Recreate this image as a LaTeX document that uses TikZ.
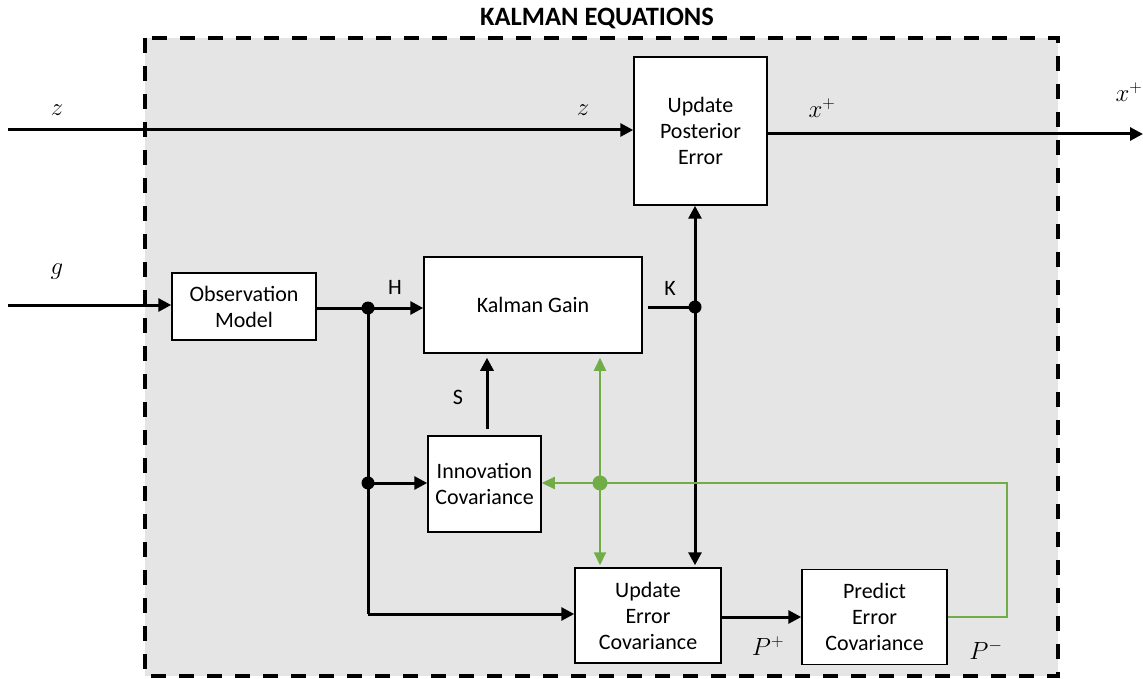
\documentclass[tikz,border=0pt]{standalone}
\usepackage[no-math]{fontspec}
\setmainfont{Carlito}
\usetikzlibrary{arrows.meta,calc}
\definecolor{bggray}{HTML}{E5E5E5}
\definecolor{grn}{HTML}{70AD47}
\begin{document}
\begin{tikzpicture}[x=1pt,y=-1pt,
  box/.style={draw=black, line width=1.5pt, fill=white, align=center, inner sep=0pt, font=\fontsize{22}{26}\selectfont},
  conn/.style={line width=3pt, -{Triangle[length=13pt,width=13pt]}},
  plain/.style={line width=3pt},
  gconn/.style={draw=grn, line width=2pt, line join=miter, -{Triangle[length=13pt,width=12pt]}},
  lbl/.style={font=\fontsize{22}{26}\selectfont},
  mlbl/.style={font=\fontsize{26}{30}\selectfont},
  dot/.style={circle, fill=black, inner sep=0pt, minimum size=13pt},
  gdot/.style={circle, fill=grn, inner sep=0pt, minimum size=15pt}]
\useasboundingbox (0,0) rectangle (1143,679);
\draw[fill=bggray, line width=3.5pt, dash pattern=on 15pt off 13pt] (145,38) rectangle (1058,676);
\node[font=\bfseries\fontsize{26.5}{30}\selectfont] (title) at (597,18) {KALMAN EQUATIONS};
% boxes
\node[box, minimum width=133pt, minimum height=148pt] (post) at (700.5,131) {Update\\Posterior\\Error};
\node[box, minimum width=144pt, minimum height=67pt] (obs) at (244,306.5) {Observation\\Model};
\node[box, minimum width=218pt, minimum height=96pt] (kg) at (533,305) {Kalman Gain};
\node[box, minimum width=113pt, minimum height=96pt] (inn) at (484.5,484) {Innovation\\Covariance};
\node[box, minimum width=146pt, minimum height=95pt] (uec) at (648,615.5) {Update\\Error\\Covariance};
\node[box, minimum width=145pt, minimum height=95pt] (pec) at (874.5,617) {Predict\\Error\\Covariance};
% coordinates
\coordinate (zin) at (8,130);
\coordinate (gin) at (8,305);
\coordinate (xout) at (1143,134);
\coordinate (jH) at (368,308);
\coordinate (jK) at (695,307);
\coordinate (kout) at (648,307);
\coordinate (jI) at (368,483);
\coordinate (cL) at (368,614);
\coordinate (jG) at (600,483);
\coordinate (cR2) at (1007,483);
\coordinate (sS) at (487,429);
% black connectors
\draw[conn] (zin) -- (zin -| post.west);
\draw[conn] (post.east |- xout) -- (xout);
\draw[conn] (gin) -- (gin -| obs.west);
\draw[plain] (obs.east |- jH) -- (jH);
\draw[conn] (jH) -- (jH -| kg.west);
\draw[plain] (kout) -- (jK);
\draw[conn] (jK) -- (jK |- post.south);
\draw[conn] (jK) -- ($(jK |- uec.north)+(0,-2)$);
\draw[plain] (jH) -- (cL);
\draw[conn] (cL) -- (cL -| uec.west);
\draw[conn] (jI) -- (jI -| inn.west);
\draw[conn] (sS) -- ($(sS |- kg.south)+(0,4)$);
\draw[conn] (uec.east |- pec.west) -- (pec.west);
% green connectors
\draw[gconn] (pec.east) -| (cR2) -- (cR2 -| inn.east);
\draw[gconn] (jG) -- ($(jG |- kg.south)+(0,4)$);
\draw[gconn] (jG) -- ($(jG |- uec.north)+(0,-2)$);
% junction dots
\node[dot] (dH) at (jH) {};
\node[dot] (dK) at (jK) {};
\node[dot] (dI) at (jI) {};
\node[gdot] (dG) at (jG) {};
% labels
\node[mlbl] (lz1) at (57,110) {$z$};
\node[mlbl] (lz2) at (583,110) {$z$};
\node[mlbl] (lg) at (57,272) {$g$};
\node[mlbl] (lx1) at (822,108) {$x^+$};
\node[mlbl, anchor=west] (lx2) at (1112,92) {$x^+$};
\node[lbl] (lH) at (395,287) {H};
\node[lbl] (lK) at (670,288) {K};
\node[lbl] (lS) at (458,397) {S};
\node[mlbl] (lp1) at (768,646) {$P^+$};
\node[mlbl] (lp2) at (986,650) {$P^-$};
\end{tikzpicture}
\end{document}
